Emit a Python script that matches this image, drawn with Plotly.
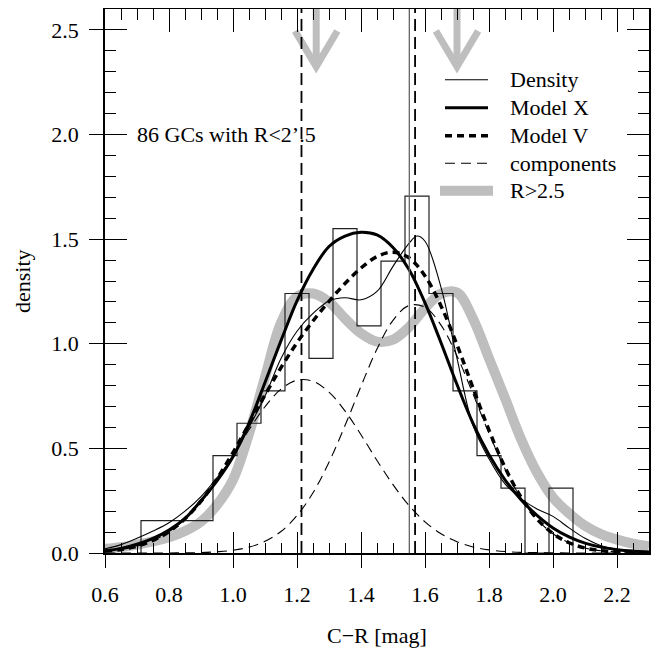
import plotly.graph_objects as go

FONT = "Liberation Serif"

# ---------------- data ----------------
grid = [0.60, 0.65, 0.70, 0.75, 0.80, 0.85, 0.90, 0.95, 1.00, 1.05, 1.10, 1.15,
        1.20, 1.25, 1.30, 1.35, 1.40, 1.45, 1.50, 1.55, 1.60, 1.65, 1.70, 1.75,
        1.80, 1.85, 1.90, 1.95, 2.00, 2.05, 2.10, 2.15, 2.20, 2.25, 2.30]

density_x = [0.60, 0.65, 0.70, 0.75, 0.80, 0.85, 0.90, 0.95, 1.00, 1.05, 1.10, 1.15,
             1.20, 1.25, 1.30, 1.35, 1.40, 1.45, 1.50, 1.55, 1.575, 1.60, 1.65, 1.70,
             1.75, 1.80, 1.85, 1.90, 1.95, 2.00, 2.05, 2.10, 2.15, 2.20, 2.25, 2.30]
density_y = [0.02, 0.04, 0.07, 0.105, 0.145, 0.20, 0.27, 0.36, 0.46, 0.60, 0.75, 0.93,
             1.06, 1.145, 1.205, 1.22, 1.21, 1.25, 1.37, 1.48, 1.515, 1.49, 1.27, 0.93,
             0.61, 0.45, 0.33, 0.26, 0.21, 0.175, 0.12, 0.07, 0.035, 0.018, 0.009, 0.004]

model_x = [0.010, 0.022, 0.042, 0.070, 0.110, 0.165, 0.250, 0.345, 0.460, 0.620, 0.815, 1.015,
           1.205, 1.355, 1.465, 1.515, 1.533, 1.520, 1.460, 1.355, 1.195, 1.005, 0.805, 0.620,
           0.470, 0.350, 0.255, 0.180, 0.120, 0.077, 0.047, 0.028, 0.016, 0.009, 0.005]

model_v = [0.009, 0.017, 0.033, 0.060, 0.102, 0.164, 0.248, 0.355, 0.480, 0.617, 0.755, 0.886,
           1.005, 1.109, 1.203, 1.288, 1.362, 1.417, 1.438, 1.411, 1.324, 1.181, 0.995, 0.789,
           0.587, 0.409, 0.267, 0.163, 0.093, 0.049, 0.024, 0.011, 0.005, 0.002, 0.001]

comp_blue = [0.009, 0.017, 0.033, 0.060, 0.102, 0.163, 0.246, 0.349, 0.467, 0.589, 0.699, 0.783,
             0.826, 0.821, 0.769, 0.679, 0.565, 0.442, 0.327, 0.227, 0.149, 0.092, 0.054, 0.029,
             0.015, 0.007, 0.003, 0.002, 0.001, 0.000, 0.000, 0.000, 0.000, 0.000, 0.000]

comp_red = [0.000, 0.000, 0.000, 0.000, 0.000, 0.001, 0.002, 0.006, 0.013, 0.028, 0.056, 0.103,
            0.179, 0.288, 0.434, 0.609, 0.797, 0.975, 1.112, 1.183, 1.175, 1.089, 0.942, 0.760,
            0.572, 0.402, 0.263, 0.161, 0.092, 0.049, 0.024, 0.011, 0.005, 0.002, 0.001]

outer_r = [0.020, 0.028, 0.040, 0.055, 0.075, 0.105, 0.150, 0.230, 0.350, 0.570, 0.840, 1.100,
           1.225, 1.240, 1.200, 1.120, 1.050, 1.010, 1.020, 1.080, 1.170, 1.240, 1.245, 1.120,
           0.930, 0.740, 0.545, 0.385, 0.265, 0.190, 0.130, 0.090, 0.064, 0.045, 0.032]

hist_edges = [0.7125, 0.7875, 0.8625, 0.9375, 1.0125, 1.0875, 1.1625, 1.2375, 1.3125,
              1.3875, 1.4625, 1.5375, 1.6125, 1.6875, 1.7625, 1.8375, 1.9125, 1.9875, 2.0625]
hist_counts = [1, 1, 1, 3, 4, 5, 8, 6, 10, 7, 9, 11, 8, 5, 3, 2, 0, 2]
n_gcs = 86

vline_dashed = [1.214, 1.569]
vline_solid = [1.551]
arrow_x = [1.26, 1.70]

x_ticks = [0.6, 0.8, 1.0, 1.2, 1.4, 1.6, 1.8, 2.0, 2.2]
y_ticks = [0.0, 0.5, 1.0, 1.5, 2.0, 2.5]

legend_labels = ["Density", "Model X", "Model V", "components", "R&gt;2.5"]

# ---------------- figure ----------------
fig = go.Figure()
GRAY = "#bebebe"

fig.add_trace(go.Scatter(x=grid, y=outer_r, mode="lines", line=dict(color=GRAY, width=10, shape="spline"),
                         showlegend=False, hoverinfo="skip"))

bw = hist_edges[1] - hist_edges[0]
hist_d = [c / (n_gcs * bw) for c in hist_counts]
hx = [hist_edges[0]] + hist_edges
hy = [0] + hist_d + [0]
fig.add_trace(go.Scatter(x=hx, y=hy, mode="lines", line=dict(color="#222", width=1.2, shape="hv"),
                         showlegend=False, hoverinfo="skip"))

for comp in (comp_blue, comp_red):
    fig.add_trace(go.Scatter(x=grid, y=comp, mode="lines",
                             line=dict(color="black", width=1.1, dash="10px,6px", shape="spline"),
                             showlegend=False, hoverinfo="skip"))

fig.add_trace(go.Scatter(x=density_x, y=density_y, mode="lines",
                         line=dict(color="black", width=1.1, shape="spline"),
                         showlegend=False, hoverinfo="skip"))
fig.add_trace(go.Scatter(x=grid, y=model_v, mode="lines",
                         line=dict(color="black", width=3.5, dash="7px,5px", shape="spline"),
                         showlegend=False, hoverinfo="skip"))
fig.add_trace(go.Scatter(x=grid, y=model_x, mode="lines",
                         line=dict(color="black", width=3, shape="spline"),
                         showlegend=False, hoverinfo="skip"))

# arrows (gray, open head)
for ax_ in arrow_x:
    fig.add_trace(go.Scatter(x=[ax_, ax_], y=[2.6, 2.33], mode="lines",
                             line=dict(color=GRAY, width=7), showlegend=False, hoverinfo="skip"))
    fig.add_trace(go.Scatter(x=[ax_ - 0.066, ax_, ax_ + 0.066], y=[2.495, 2.325, 2.495], mode="lines",
                             line=dict(color=GRAY, width=7), showlegend=False, hoverinfo="skip"))

# dummy traces to activate overlay axes
for xa, ya in (("x2", "y"), ("x3", "y"), ("x", "y2"), ("x", "y3")):
    fig.add_trace(go.Scatter(x=[None], y=[None], xaxis=xa, yaxis=ya, showlegend=False, hoverinfo="skip"))

shapes = []
for v in vline_dashed:
    shapes.append(dict(type="line", xref="x", yref="paper", x0=v, x1=v, y0=0, y1=1,
                       line=dict(color="black", width=1.8, dash="12px,6px"), layer="above"))
for v in vline_solid:
    shapes.append(dict(type="line", xref="x", yref="paper", x0=v, x1=v, y0=0, y1=1,
                       line=dict(color="#666", width=1.3), layer="above"))

# page body has an 8px default margin; positions below are screen pixels
PL, PT, PW = 105, 9.3, 544.0
def px_x(p):
    return (p - PL) / PW
def px_y(p):
    return (PT + PW - p) / PW

leg_rows = [80, 108, 136, 163.5, 191]
leg_styles = [dict(color="black", width=1.1), dict(color="black", width=3),
              dict(color="black", width=3.5, dash="7px,5px"), dict(color="black", width=1.1, dash="10px,6px"),
              dict(color=GRAY, width=10)]
annotations = []
for i, (row, sty) in enumerate(zip(leg_rows, leg_styles)):
    x0, x1 = (445, 488) if i < 4 else (440, 493)
    shapes.append(dict(type="line", xref="paper", yref="paper", x0=px_x(x0), x1=px_x(x1),
                       y0=px_y(row), y1=px_y(row), line=sty, layer="above"))
    annotations.append(dict(xref="paper", yref="paper", x=px_x(508), y=px_y(row), text=legend_labels[i],
                            showarrow=False, xanchor="left", yanchor="middle",
                            font=dict(family=FONT, size=22, color="black")))

annotations.append(dict(xref="x", yref="y", x=0.695, y=2.0, text="86 GCs with R&lt;2&#8217;.5",
                        showarrow=False, xanchor="left", yanchor="middle",
                        font=dict(family=FONT, size=22, color="black")))
annotations.append(dict(xref="paper", yref="paper", x=0.5, y=px_y(636), text="C−R [mag]",
                        showarrow=False, xanchor="center", yanchor="middle",
                        font=dict(family=FONT, size=22, color="black")))
annotations.append(dict(xref="paper", yref="paper", x=px_x(22), y=0.5, text="density", textangle=-90,
                        showarrow=False, xanchor="center", yanchor="middle",
                        font=dict(family=FONT, size=22, color="black")))

tickfont = dict(family=FONT, size=22, color="black")
XR = [0.6, 2.3]
YR = [0.0, 2.6]
common = dict(showgrid=False, zeroline=False, tickcolor="black", tickwidth=1.3)

OFF = 8  # browser default body margin
fig.update_layout(
    width=665, height=653,
    margin=dict(l=PL - OFF, r=665 - (PL - OFF) - PW, t=PT - OFF, b=653 - (PT - OFF) - PW),
    paper_bgcolor="white", plot_bgcolor="white",
    showlegend=False,
    shapes=shapes, annotations=annotations,
    xaxis=dict(range=XR, tickmode="array", tickvals=x_ticks, ticktext=[f"{v:.1f}" for v in x_ticks],
               ticks="outside", ticklen=13, tickfont=tickfont, showline=True, linecolor="black",
               linewidth=1.5, ticklabelstandoff=8, **common),
    xaxis2=dict(range=XR, overlaying="x", anchor="y", side="bottom", tickmode="array", tickvals=x_ticks,
                ticks="inside", ticklen=21, showticklabels=False, showline=False,
                minor=dict(ticks="inside", ticklen=10, tick0=0.6, dtick=0.05, tickcolor="black", tickwidth=1.2),
                **common),
    xaxis3=dict(range=XR, overlaying="x", anchor="y", side="top", tickmode="array", tickvals=x_ticks,
                ticks="inside", ticklen=23, showticklabels=False, showline=True, linecolor="black", linewidth=1.5,
                minor=dict(ticks="inside", ticklen=11, tick0=0.6, dtick=0.05, tickcolor="black", tickwidth=1.2),
                **common),
    yaxis=dict(range=YR, tickmode="array", tickvals=y_ticks, ticktext=[f"{v:.1f}" for v in y_ticks],
               ticks="outside", ticklen=14, tickfont=tickfont, showline=True, linecolor="black",
               linewidth=1.5, ticklabelstandoff=6, **common),
    yaxis2=dict(range=YR, overlaying="y", anchor="x", side="left", tickmode="array", tickvals=y_ticks,
                ticks="inside", ticklen=22, showticklabels=False, showline=False,
                minor=dict(ticks="inside", ticklen=11, tick0=0.0, dtick=0.1, tickcolor="black", tickwidth=1.2),
                **common),
    yaxis3=dict(range=YR, overlaying="y", anchor="x", side="right", tickmode="array", tickvals=y_ticks,
                ticks="inside", ticklen=22, showticklabels=False, showline=True, linecolor="black", linewidth=1.5,
                minor=dict(ticks="inside", ticklen=11, tick0=0.0, dtick=0.1, tickcolor="black", tickwidth=1.2),
                **common),
)

fig.write_html("out.html")
